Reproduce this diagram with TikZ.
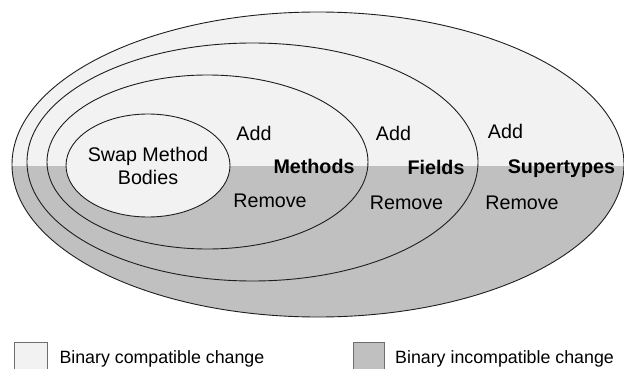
\documentclass[tikz,border=0pt]{standalone}
\usepackage{fontspec}
\setmainfont{Liberation Sans}
\definecolor{compat}{HTML}{F2F2F2}
\definecolor{incompat}{HTML}{C0C0C0}
\definecolor{rim}{HTML}{1E1E1E}
\definecolor{keyrim}{HTML}{6E6E6E}
\begin{document}
\begin{tikzpicture}[x=1pt,y=-1pt,
  rimline/.style={draw=rim,line width=0.9pt},
  lbl/.style={anchor=base,inner sep=0pt,font=\fontsize{19.7}{23.3}\selectfont},
  kind/.style={lbl,font=\fontsize{19.7}{23.3}\selectfont\bfseries},
  keybox/.style={draw=keyrim,line width=0.8pt},
  keytext/.style={anchor=base west,inner sep=0pt,font=\fontsize{17.8}{21}\selectfont}]
\useasboundingbox (0,0) rectangle (624,369);

% two-tone fill of the outer region
\begin{scope}
  \clip (318,164.5) ellipse [x radius=306pt, y radius=152.5pt];
  \fill[compat] (0,0) rectangle (624,166);
  \fill[incompat] (0,166) rectangle (624,330);
\end{scope}

% nested change categories
\draw[rimline] (318,164.5) ellipse [x radius=306pt, y radius=152.5pt];
\draw[rimline] (252.5,162) ellipse [x radius=225.5pt, y radius=119pt];
\draw[rimline] (207.5,162) ellipse [x radius=160.5pt, y radius=87pt];
\draw[rimline,fill=compat] (148,165.5) ellipse [x radius=82pt, y radius=51.5pt];

% labels
\node[lbl,align=center] (swap) at (148,184.3) {Swap Method\\Bodies};
\node[lbl] (addm) at (254,140) {Add};
\node[kind] (methods) at (314,173.3) {Methods};
\node[lbl] (remm) at (270,207.5) {Remove};
\node[lbl] (addf) at (393.5,140) {Add};
\node[kind] (fields) at (436,174) {Fields};
\node[lbl] (remf) at (406.5,209) {Remove};
\node[lbl] (adds) at (505.5,138.5) {Add};
\node[kind] (supertypes) at (561.5,173.3) {Supertypes};
\node[lbl] (rems) at (522,209) {Remove};

% legend
\draw[keybox,fill=compat] (14,342) rectangle (47,372);
\node[keytext] (kc) at (59.3,363.3) {Binary compatible change};
\draw[keybox,fill=incompat] (353,342) rectangle (384.3,372);
\node[keytext] (ki) at (395,363.3) {Binary incompatible change};
\end{tikzpicture}
\end{document}
